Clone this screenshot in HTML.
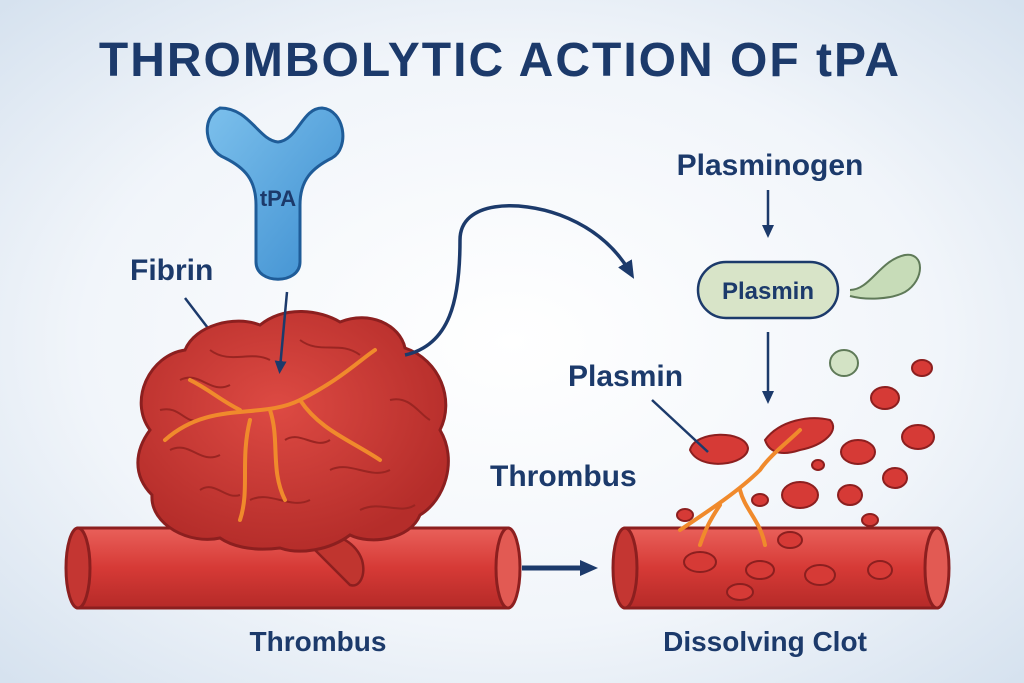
<!DOCTYPE html>
<html><head><meta charset="utf-8"><style>
html,body{margin:0;padding:0;width:1024px;height:683px;overflow:hidden}
svg{display:block}
text{font-family:"Liberation Sans",sans-serif;fill:#1c3a6b}
</style></head><body>
<svg width="1024" height="683" viewBox="0 0 1024 683" xmlns="http://www.w3.org/2000/svg">
<defs>
<radialGradient id="bg" cx="50%" cy="50%" r="70%">
<stop offset="0" stop-color="#ffffff"/><stop offset="0.6" stop-color="#f1f5fa"/><stop offset="1" stop-color="#d6e2ef"/>
</radialGradient>
<linearGradient id="ves" x1="0" y1="0" x2="0" y2="1">
<stop offset="0" stop-color="#e9605a"/><stop offset="0.5" stop-color="#d63a36"/><stop offset="1" stop-color="#b52a28"/>
</linearGradient>
<radialGradient id="clot" cx="45%" cy="40%" r="60%">
<stop offset="0" stop-color="#dd4a43"/><stop offset="1" stop-color="#b52d2a"/>
</radialGradient>
<linearGradient id="tpa" x1="0" y1="0" x2="1" y2="1">
<stop offset="0" stop-color="#7cc0ec"/><stop offset="1" stop-color="#3d8ed0"/>
</linearGradient>
<marker id="ah" markerWidth="20" markerHeight="20" refX="10" refY="8" orient="auto" markerUnits="userSpaceOnUse"><path d="M0,0 L18,8 L0,16 z" fill="#1c3a6b"/></marker>
<marker id="ah2" markerWidth="14" markerHeight="14" refX="7" refY="6" orient="auto" markerUnits="userSpaceOnUse"><path d="M0,0 L13,6 L0,12 z" fill="#1c3a6b"/></marker>
</defs>
<rect width="1024" height="683" fill="url(#bg)"/>
<text x="500" y="76" font-size="48" font-weight="bold" text-anchor="middle" letter-spacing="2">THROMBOLYTIC ACTION OF tPA</text>

<path d="M220,108 C200,118 205,150 225,158 C245,168 256,180 256,205 L256,262 C256,285 300,285 300,262 L300,205 C300,180 312,168 332,158 C350,148 345,110 322,108 C302,108 298,140 278,142 C258,140 250,108 220,108 Z" fill="url(#tpa)" stroke="#1f5c98" stroke-width="3"/>
<text x="278" y="206" font-size="22" font-weight="bold" text-anchor="middle" fill="#1c3a6b">tPA</text>

<text x="130" y="280" font-size="30" font-weight="600">Fibrin</text>
<line x1="185" y1="298" x2="240" y2="370" stroke="#1c3a6b" stroke-width="2.5"/>

<rect x="78" y="528" width="430" height="80" fill="url(#ves)" stroke="#8c1f1f" stroke-width="3"/>
<ellipse cx="508" cy="568" rx="12" ry="40" fill="#e25a53" stroke="#8c1f1f" stroke-width="3"/>
<ellipse cx="78" cy="568" rx="12" ry="40" fill="#c43632" stroke="#8c1f1f" stroke-width="3"/>

<path d="M320,530 C335,535 355,540 362,560 C366,575 360,588 350,585 C340,575 325,560 310,545 Z" fill="#c0352f" stroke="#8c1f1f" stroke-width="2.5"/>
<path d="M150,430 C128,400 150,355 185,350 C195,325 235,315 260,325 C285,305 320,310 340,322 C370,310 400,325 405,348 C440,360 455,400 440,430 C458,460 445,500 420,515 C410,540 370,545 350,535 C330,550 300,555 280,548 C250,552 230,545 220,538 C190,545 150,525 152,495 C132,475 135,450 150,430 Z" fill="url(#clot)" stroke="#8c1f1f" stroke-width="3"/>
<g fill="none" stroke="#9a2522" stroke-width="2">
<path d="M180,380 C200,370 210,395 230,385"/><path d="M300,340 C320,355 340,340 360,355"/><path d="M170,450 C190,440 200,465 220,455"/><path d="M330,470 C350,460 370,480 390,470"/><path d="M250,500 C270,490 290,510 310,500"/><path d="M390,400 C410,395 420,415 430,420"/><path d="M210,350 C230,365 250,350 270,360"/><path d="M160,410 C180,405 185,425 200,420"/><path d="M360,510 C380,500 400,515 415,505"/><path d="M200,490 C215,480 225,500 240,495"/><path d="M285,440 C300,430 315,450 330,440"/>
</g>
<g fill="none" stroke="#f08a2c" stroke-width="4" stroke-linecap="round">
<path d="M165,440 C210,400 260,420 300,400 C340,380 360,360 375,350"/>
<path d="M250,420 C240,460 250,490 240,520"/>
<path d="M300,400 C320,430 350,440 380,460"/>
<path d="M190,380 C210,390 220,400 240,410"/>
<path d="M270,410 C280,440 270,470 285,500"/>
</g>
<line x1="287" y1="292" x2="280" y2="368" stroke="#1c3a6b" stroke-width="2.5" marker-end="url(#ah2)"/>

<line x1="522" y1="568" x2="590" y2="568" stroke="#1c3a6b" stroke-width="5" marker-end="url(#ah)"/>

<rect x="625" y="528" width="312" height="80" fill="url(#ves)" stroke="#8c1f1f" stroke-width="3"/>
<ellipse cx="937" cy="568" rx="12" ry="40" fill="#e25a53" stroke="#8c1f1f" stroke-width="3"/>
<ellipse cx="625" cy="568" rx="12" ry="40" fill="#c43632" stroke="#8c1f1f" stroke-width="3"/>
<g fill="#d63a36" stroke="#8c1f1f" stroke-width="2">
<ellipse cx="700" cy="562" rx="16" ry="10"/><ellipse cx="760" cy="570" rx="14" ry="9"/><ellipse cx="820" cy="575" rx="15" ry="10"/><ellipse cx="880" cy="570" rx="12" ry="9"/><ellipse cx="790" cy="540" rx="12" ry="8"/><ellipse cx="740" cy="592" rx="13" ry="8"/>
<ellipse cx="800" cy="495" rx="18" ry="13"/><ellipse cx="858" cy="452" rx="17" ry="12"/><ellipse cx="885" cy="398" rx="14" ry="11"/><ellipse cx="918" cy="437" rx="16" ry="12"/><ellipse cx="922" cy="368" rx="10" ry="8"/><ellipse cx="850" cy="495" rx="12" ry="10"/><ellipse cx="895" cy="478" rx="12" ry="10"/><ellipse cx="818" cy="465" rx="6" ry="5"/><ellipse cx="685" cy="515" rx="8" ry="6"/><ellipse cx="870" cy="520" rx="8" ry="6"/><ellipse cx="760" cy="500" rx="8" ry="6"/>
<path d="M690,450 C695,430 745,430 748,448 C748,465 700,472 690,450 Z"/>
<path d="M765,440 C780,420 810,415 830,420 C840,430 825,445 800,450 C785,455 770,455 765,440 Z"/>
</g>
<g fill="none" stroke="#f08a2c" stroke-width="4" stroke-linecap="round">
<path d="M680,530 C710,510 740,490 760,470 C770,455 790,440 800,430"/>
<path d="M740,490 C745,510 760,520 765,545"/>
<path d="M720,505 C710,520 705,530 700,545"/>
</g>

<path d="M405,355 C450,345 460,300 460,240 C460,200 520,200 560,215 C600,230 620,255 630,272" fill="none" stroke="#1c3a6b" stroke-width="3.5" marker-end="url(#ah)"/>

<text x="770" y="175" font-size="30" font-weight="600" text-anchor="middle">Plasminogen</text>
<line x1="768" y1="190" x2="768" y2="232" stroke="#1c3a6b" stroke-width="2.5" marker-end="url(#ah2)"/>
<rect x="698" y="262" width="140" height="56" rx="28" fill="#d8e4c8" stroke="#1c3a6b" stroke-width="2.5"/>
<text x="768" y="299" font-size="24" font-weight="600" text-anchor="middle">Plasmin</text>
<path d="M850,290 C870,290 880,260 905,255 C925,252 925,280 905,292 C890,300 865,300 850,296" fill="#c7dcb8" stroke="#5f7a58" stroke-width="2"/>
<ellipse cx="844" cy="363" rx="14" ry="13" fill="#d3e3c5" stroke="#5f7a58" stroke-width="2"/>
<line x1="768" y1="332" x2="768" y2="398" stroke="#1c3a6b" stroke-width="2.5" marker-end="url(#ah2)"/>

<text x="568" y="386" font-size="30" font-weight="600">Plasmin</text>
<line x1="652" y1="400" x2="708" y2="452" stroke="#1c3a6b" stroke-width="2.5"/>
<text x="490" y="486" font-size="30" font-weight="600">Thrombus</text>

<text x="318" y="651" font-size="28" font-weight="600" text-anchor="middle">Thrombus</text>
<text x="765" y="651" font-size="28" font-weight="600" text-anchor="middle">Dissolving Clot</text>
</svg>
</body></html>
